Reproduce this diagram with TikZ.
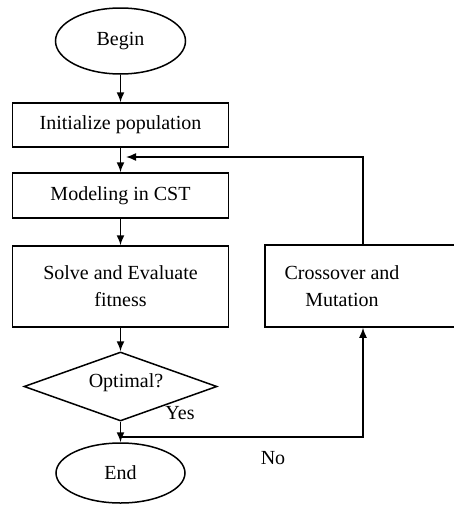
\documentclass[tikz,border=0pt]{standalone}
\usepackage{fontspec}
\setmainfont{Liberation Serif}
\usetikzlibrary{shapes.geometric,arrows.meta}
\begin{document}
\begin{tikzpicture}[x=1pt,y=-1pt,
  font=\fontsize{20}{27}\selectfont,
  line width=1.5pt,
  >={Latex[length=10pt,width=8pt]},
  box/.style={draw, rectangle, inner sep=0pt},
  term/.style={draw, ellipse, inner sep=0pt},
  lbl/.style={inner sep=0pt}]
\useasboundingbox (0,0) rectangle (454,506);
\clip (0,0) rectangle (454,506);
\node[term, minimum width=130pt, minimum height=66pt] (begin) at (120.5,41) {Begin};
\node[box, minimum width=216pt, minimum height=44pt] (init) at (120.5,125) {Initialize population};
\node[box, minimum width=216pt, minimum height=45pt] (model) at (120.5,195.5) {Modeling in CST};
\node[box, minimum width=216pt, minimum height=81pt, align=center] (solve) at (120.5,286.5) {Solve and Evaluate\\fitness};
\node[draw, diamond, aspect=2.8, inner sep=0pt, minimum width=193pt, minimum height=69pt] (opt) at (120.5,386.5) {};
\node[lbl] (opttext) at (126,383) {Optimal?};
\node[term, minimum width=129pt, minimum height=60pt] (end) at (120.5,473) {End};
\node[box, minimum width=215pt, minimum height=82pt] (cm) at (372.5,286) {};
\node[lbl, align=center] (cmtext) at (342,286) {Crossover and\\Mutation};
\node[lbl] (yes) at (180,413) {Yes};
\node[lbl] (no) at (273,458) {No};
\coordinate (lx) at (363,157);
\coordinate (ltip) at (126,157);
\coordinate (j) at (120.5,437);
\draw[->] (begin) -- (init);
\draw[->] (init) -- (model);
\draw[->] (model) -- (solve);
\draw[->] (solve) -- (opt);
\draw[->] (opt) -- (end);
\draw[->] (cm.north -| lx) |- (ltip);
\draw[->] (j) -| (cm.south -| lx);
\end{tikzpicture}
\end{document}
